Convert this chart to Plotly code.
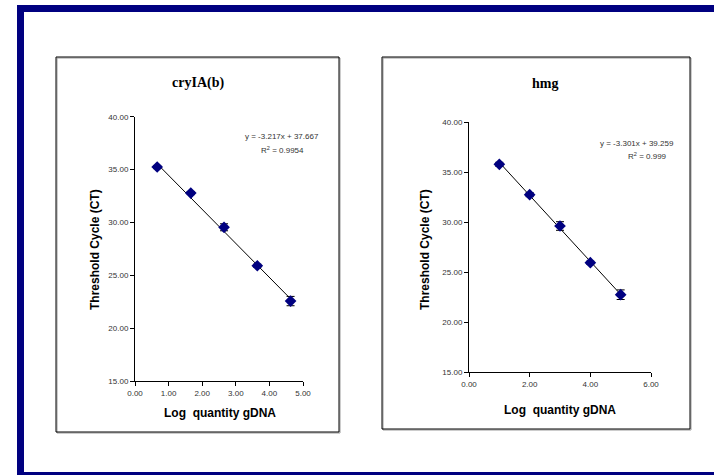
import plotly.graph_objects as go

W, H = 714, 475

# ---- data ----
cry_x = [0.66, 1.66, 2.65, 3.64, 4.63]
cry_y = [35.24, 32.78, 29.54, 25.90, 22.56]
cry_err = [0.15, 0.15, 0.33, 0.15, 0.44]
cry_slope, cry_intercept = -3.217, 37.667
cry_eq = "y = -3.217x + 37.667"
cry_r2 = "R<sup>2</sup> = 0.9954"

hmg_x = [1.0, 2.0, 3.0, 4.0, 5.0]
hmg_y = [35.77, 32.73, 29.60, 25.93, 22.73]
hmg_err = [0.2, 0.2, 0.43, 0.15, 0.48]
hmg_slope, hmg_intercept = -3.301, 39.259
hmg_eq = "y = -3.301x + 39.259"
hmg_r2 = "R<sup>2</sup> = 0.999"

y_ticks = [15, 20, 25, 30, 35, 40]
cry_x_ticks = [0, 1, 2, 3, 4, 5]
hmg_x_ticks = [0, 2, 4, 6]

NAVY = "#000080"
FONT = "Liberation Sans, Arial, sans-serif"
SERIF = "Liberation Serif, Times New Roman, serif"


def px(x):
    return x / W


def py(y):
    return 1 - y / H


fig = go.Figure()

for xs, ys, es, slope, icpt, xa, ya in [
    (cry_x, cry_y, cry_err, cry_slope, cry_intercept, "x", "y"),
    (hmg_x, hmg_y, hmg_err, hmg_slope, hmg_intercept, "x2", "y2"),
]:
    x0, x1 = min(xs), max(xs)
    fig.add_trace(go.Scatter(
        x=[x0, x1], y=[slope * x0 + icpt, slope * x1 + icpt],
        mode="lines", line=dict(color="black", width=1),
        xaxis=xa, yaxis=ya, showlegend=False, hoverinfo="skip"))
    fig.add_trace(go.Scatter(
        x=xs, y=ys, mode="markers",
        marker=dict(symbol="diamond", size=9, color=NAVY),
        error_y=dict(type="data", array=es, visible=True,
                     color="black", thickness=1, width=4),
        xaxis=xa, yaxis=ya, showlegend=False))

axis_common = dict(
    showline=True, linecolor="black", linewidth=1, ticks="outside",
    ticklen=4, tickcolor="black", showgrid=False, zeroline=False,
    automargin=False,
    tickformat=".2f", tickfont=dict(family=FONT, size=8, color="#333333"),
)

fig.update_layout(
    width=W, height=H,
    margin=dict(l=0, r=0, t=0, b=0, pad=0, autoexpand=False),
    paper_bgcolor="white", plot_bgcolor="white",
    xaxis=dict(domain=[px(135), px(303)], range=[0, 5],
               tickvals=cry_x_ticks, anchor="y", **axis_common),
    yaxis=dict(domain=[py(381), py(116.7)], range=[15, 40],
               tickvals=y_ticks, anchor="x", **axis_common),
    xaxis2=dict(domain=[px(469), px(651)], range=[0, 6],
                tickvals=hmg_x_ticks, anchor="y2", **axis_common),
    yaxis2=dict(domain=[py(372), py(122)], range=[15, 40],
                tickvals=y_ticks, anchor="x2", **axis_common),
)

shapes = [
    # blue frame
    dict(type="rect", xref="paper", yref="paper", x0=px(17), x1=px(714),
         y0=py(12), y1=py(5), fillcolor=NAVY, line=dict(width=0)),
    dict(type="rect", xref="paper", yref="paper", x0=px(17), x1=px(24),
         y0=py(475), y1=py(5), fillcolor=NAVY, line=dict(width=0)),
    dict(type="rect", xref="paper", yref="paper", x0=px(17), x1=px(714),
         y0=py(475), y1=py(472), fillcolor=NAVY, line=dict(width=0)),
    # panel shadows
    dict(type="rect", xref="paper", yref="paper", x0=px(57), x1=px(340),
         y0=py(433), y1=py(58), line=dict(color="#999999", width=1), layer="below"),
    dict(type="rect", xref="paper", yref="paper", x0=px(383), x1=px(691),
         y0=py(430), y1=py(58), line=dict(color="#999999", width=1), layer="below"),
    # panel boxes
    dict(type="rect", xref="paper", yref="paper", x0=px(56), x1=px(339),
         y0=py(432), y1=py(57), line=dict(color="black", width=1), layer="below"),
    dict(type="rect", xref="paper", yref="paper", x0=px(382), x1=px(690),
         y0=py(429), y1=py(57), line=dict(color="black", width=1), layer="below"),
]
fig.update_layout(shapes=shapes)


def ann(text, x, y, size, family=FONT, bold=False, angle=0, color="black"):
    t = f"<b>{text}</b>" if bold else text
    fig.add_annotation(text=t, x=px(x), y=py(y), xref="paper", yref="paper",
                       showarrow=False, textangle=angle,
                       font=dict(family=family, size=size, color=color),
                       xanchor="center", yanchor="middle")


ann("cryIA(b)", 198, 83, 14, family=SERIF, bold=True)
ann("hmg", 545, 83, 14, family=SERIF, bold=True)
ann("Threshold Cycle (CT)", 95, 250, 12, bold=True, angle=-90)
ann("Threshold Cycle (CT)", 425, 250, 12, bold=True, angle=-90)
ann("Log  quantity gDNA", 220, 413, 12, bold=True)
ann("Log  quantity gDNA", 560, 410, 12, bold=True)
ann(cry_eq, 282, 136, 8, color="#333333")
ann(cry_r2, 282, 150, 8, color="#333333")
ann(hmg_eq, 637, 143, 8, color="#333333")
ann(hmg_r2, 647, 156, 8, color="#333333")

fig.write_html(
    "out.html",
    config={"displayModeBar": False},
    post_script="document.body.style.margin='0';"
                "document.body.style.overflow='hidden';",
)
